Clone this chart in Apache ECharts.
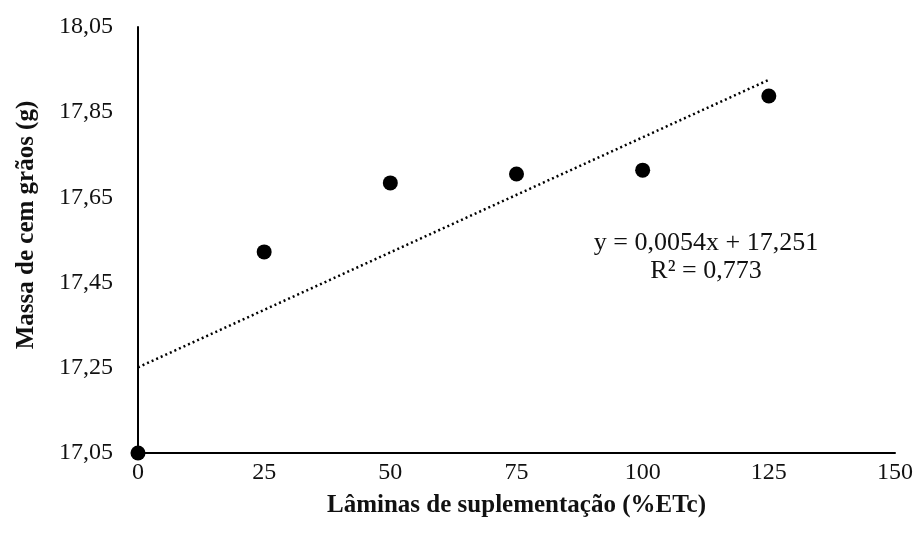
<!DOCTYPE html>
<html><head><meta charset="utf-8">
<script src="https://cdn.jsdelivr.net/npm/echarts@6/dist/echarts.min.js"></script>
<style>html,body{margin:0;padding:0;background:#fff}#c{width:919px;height:540px}</style>
</head><body><div id="c"></div>
<script>
var xValues = [0, 25, 50, 75, 100, 125];
var yValues = [17.05, 17.522, 17.684, 17.705, 17.714, 17.888];
var trendSlope = 0.0054;
var trendIntercept = 17.251;
var trendRange = [0, 125];
var yMin = 17.05, yMax = 18.05, yStep = 0.2;
var xTicks = [0, 25, 50, 75, 100, 125, 150];
var eqLines = ['y = 0,0054x + 17,251', 'R² = 0,773'];

var font = 'Liberation Serif';
var pts = xValues.map(function(x, i){ return [x, yValues[i] - yMin]; });
var trend = trendRange.map(function(x){ return [x, trendSlope * x + trendIntercept - yMin]; });

var chart = echarts.init(document.getElementById('c'));
chart.setOption({
  backgroundColor: '#fff',
  animation: false,
  grid: {left: 138, right: 24, top: 27, bottom: 87, containLabel: false, outerBoundsMode: 'none'},
  xAxis: {
    type: 'value', min: xTicks[0], max: xTicks[xTicks.length-1], interval: 25,
    splitLine: {show: false},
    axisTick: {show: false},
    axisLine: {lineStyle: {color: '#000', width: 2}},
    axisLabel: {color: '#111', fontFamily: font, fontSize: 24, margin: 8},
    name: 'Lâminas de suplementação (%ETc)', nameLocation: 'middle', nameGap: 40,
    nameTextStyle: {color: '#111', fontFamily: font, fontSize: 25, fontWeight: 'bold'}
  },
  yAxis: {
    type: 'value', min: 0, max: yMax - yMin, interval: yStep,
    splitLine: {show: false},
    axisTick: {show: false},
    axisLine: {show: true, lineStyle: {color: '#000', width: 2}},
    axisLabel: {color: '#111', fontFamily: font, fontSize: 24, margin: 25,
      formatter: function(v){ return (v + yMin).toFixed(2).replace('.', ','); }},
    name: 'Massa de cem grãos (g)', nameLocation: 'middle', nameGap: 99,
    nameTextStyle: {color: '#111', fontFamily: font, fontSize: 25, fontWeight: 'bold', padding: [0, 0, 0, 30]}
  },
  series: [
    {type: 'line', data: trend, symbol: 'none', silent: true,
     lineStyle: {color: '#000', width: 2.5, type: [2, 3]}, z: 2},
    {type: 'scatter', data: pts, symbolSize: 15, clip: false,
     itemStyle: {color: '#000', opacity: 1}, z: 5}
  ],
  graphic: [
    {type: 'text', x: 706, y: 243, style: {text: eqLines[0], fontFamily: font, fontSize: 26, fill: '#111', textAlign: 'center', textVerticalAlign: 'middle'}},
    {type: 'text', x: 706, y: 271, style: {text: eqLines[1], fontFamily: font, fontSize: 26, fill: '#111', textAlign: 'center', textVerticalAlign: 'middle'}}
  ]
});
</script></body></html>
